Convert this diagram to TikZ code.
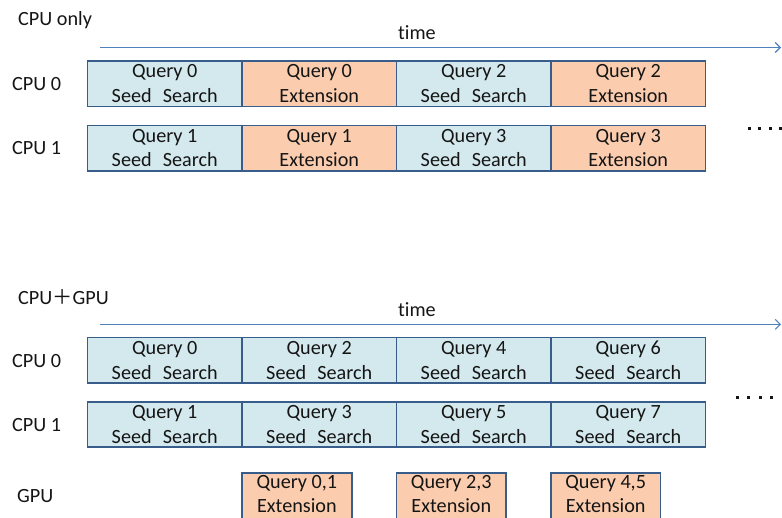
\documentclass[tikz,border=0pt]{standalone}
\usepackage{fontspec}
\setmainfont{Carlito}[Ligatures={NoCommon}]
\newfontfamily\cjkfont{Noto Sans CJK SC}
\usetikzlibrary{arrows.meta}
\definecolor{boxline}{HTML}{385D8A}
\definecolor{seedfill}{HTML}{D3E9EE}
\definecolor{extfill}{HTML}{FBCDAE}
\definecolor{axiscol}{HTML}{4F81BD}
\definecolor{txt}{HTML}{151515}
\tikzset{
  tbox/.style={draw=boxline, line width=1.8pt, minimum width=154.5pt, minimum height=45.5pt,
    inner sep=0pt, align=center, font=\fontsize{20.2}{24.5}\selectfont, text=txt},
  seedbox/.style={tbox, fill=seedfill},
  extbox/.style={tbox, fill=extfill},
  gpubox/.style={tbox, fill=extfill, minimum width=109.7pt, minimum height=47pt, anchor=north},
  gputext/.style={inner sep=0pt, align=center, font=\fontsize{20.2}{24}\selectfont, text=txt},
  lbl/.style={anchor=west, inner sep=0pt, font=\fontsize{20.2}{24.5}\selectfont, text=txt},
  timeaxis/.style={draw=axiscol, line width=1.1pt, -{Straight Barb[length=5pt,width=10pt,line width=1.1pt]}},
  dotsq/.style={fill=txt}
}
\newcommand{\seedtxt}[1]{Query #1\\Seed\hspace{0.55em}Search}
\newcommand{\exttxt}[1]{Query #1\\Extension}
\begin{document}
\begin{tikzpicture}[x=1pt,y=-1pt]
\useasboundingbox (0,0) rectangle (782,517);
% ---------- CPU only ----------
\node[lbl] (t1) at (18,20) {CPU only};
\coordinate (a1s) at (100,47.5);
\coordinate (a1e) at (781,47.5);
\draw[timeaxis] (a1s) -- (a1e);
\node[lbl] (time1) at (398,33) {time};
\node[lbl] (c0a) at (12,84) {CPU 0};
\node[lbl] (c1a) at (12,148) {CPU 1};
\node[seedbox] (a00) at (164.75,83.7) {\seedtxt{0}};
\node[extbox]  (a01) at (319.25,83.7) {\exttxt{0}};
\node[seedbox] (a02) at (473.75,83.7) {\seedtxt{2}};
\node[extbox]  (a03) at (628.25,83.7) {\exttxt{2}};
\node[seedbox] (a10) at (164.75,148.2) {\seedtxt{1}};
\node[extbox]  (a11) at (319.25,148.2) {\exttxt{1}};
\node[seedbox] (a12) at (473.75,148.2) {\seedtxt{3}};
\node[extbox]  (a13) at (628.25,148.2) {\exttxt{3}};
\foreach \x in {749,759.5,770,780.5} \fill[dotsq] (\x-1.5,126.5) rectangle (\x+1.5,129.5);
% ---------- CPU + GPU ----------
\node[lbl] (t2) at (18,297) {CPU{\cjkfont ＋}GPU};
\coordinate (a2s) at (100,324.3);
\coordinate (a2e) at (781,324.3);
\draw[timeaxis] (a2s) -- (a2e);
\node[lbl] (time2) at (398,310) {time};
\node[lbl] (c0b) at (12,361) {CPU 0};
\node[lbl] (c1b) at (12,425) {CPU 1};
\node[lbl] (gpu) at (17,496) {GPU};
\node[seedbox] (b00) at (164.75,360.3) {\seedtxt{0}};
\node[seedbox] (b01) at (319.25,360.3) {\seedtxt{2}};
\node[seedbox] (b02) at (473.75,360.3) {\seedtxt{4}};
\node[seedbox] (b03) at (628.25,360.3) {\seedtxt{6}};
\node[seedbox] (b10) at (164.75,424.5) {\seedtxt{1}};
\node[seedbox] (b11) at (319.25,424.5) {\seedtxt{3}};
\node[seedbox] (b12) at (473.75,424.5) {\seedtxt{5}};
\node[seedbox] (b13) at (628.25,424.5) {\seedtxt{7}};
\node[gpubox] (g0) at (296.9,472.3) {};
\node[gpubox] (g1) at (451.3,472.3) {};
\node[gpubox] (g2) at (605.7,472.3) {};
\node[gputext] (g0t) at ([yshift=2.5pt]g0.center) {\exttxt{0,1}};
\node[gputext] (g1t) at ([yshift=2.5pt]g1.center) {\exttxt{2,3}};
\node[gputext] (g2t) at ([yshift=2.5pt]g2.center) {\exttxt{4,5}};
\foreach \x in {737,748.5,760,771.5} \fill[dotsq] (\x-1.5,396.2) rectangle (\x+1.5,399.2);
\end{tikzpicture}
\end{document}
